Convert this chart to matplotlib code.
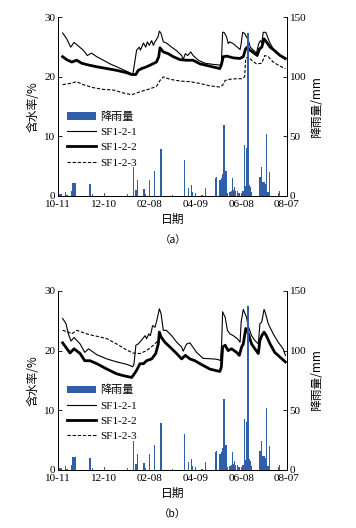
import matplotlib
matplotlib.use("Agg")
import matplotlib.pyplot as plt

# ---------------- data ----------------
tick_days = [0, 60, 120, 180, 240, 300]
tick_labels = ["10-11", "12-10", "02-08", "04-09", "06-08", "08-07"]

rain_day = [2, 4, 9.6, 12, 18, 19.6, 21, 23, 42, 45, 61, 91, 99, 102, 104, 112.6, 114,
            120, 126.6, 135, 150, 166, 171, 175, 176, 180, 188.6, 193, 206.5, 207.5,
            212.5, 214, 216, 217.5, 219, 220, 222, 225.5, 227, 228.5, 230, 231, 233, 235, 237,
            241, 242.5, 244, 245.5, 246.5, 247.5, 249, 250.5, 251.5, 253, 264.6, 266.5, 268.6,
            270, 271.5, 273, 275, 277.5, 289, 290.5]
rain_mm = [1.7, 1.4, 3.4, 1.0, 4.0, 11.2, 11.2, 10.8, 10.0, 1.7, 2.2, 1.8, 24.6, 5.0, 13.5, 5.9, 1.5,
           13.0, 21.0, 39.2, 0.6, 30.0, 7.0, 9.0, 3.6, 2.2, 0.8, 6.4, 15.0, 16.0,
           13.0, 15.0, 18.0, 59.5, 21.0, 21.0, 2.2, 3.0, 4.0, 15.0, 5.0, 7.8, 4.5, 4.0, 2.8,
           2.8, 4.0, 42.7, 8.0, 5.0, 40.0, 137.0, 9.0, 7.8, 3.6, 16.0, 24.6, 12.0,
           12.0, 10.0, 52.0, 3.6, 20.4, 2.2, 4.0]

# panel (a)
a1_day = [6, 11.4, 16.6, 21, 26.6, 33, 38.4, 44, 50.7, 59.4, 68, 77, 85.6, 94, 98, 99.6, 103,
          106.5, 108, 112, 115, 117, 119.6, 122.7, 125, 127, 129, 131, 132.8, 135, 138, 142,
          149, 155.5, 162, 164, 166.8, 170, 174, 177, 184, 192.6, 203.5, 212, 214, 215.7,
          217.5, 221, 223, 225, 229.5, 235, 238.6, 240, 242, 244.5, 247, 249, 252, 256, 260,
          263, 265.5, 267, 269, 272, 273, 277, 282, 288.6, 295, 298]
a1_val = [27.4, 26.4, 25.0, 25.8, 25.2, 24.5, 23.6, 24.0, 23.4, 22.8, 22.2, 21.7, 21.2, 20.7, 20.4, 21.7, 24.5,
          25.0, 24.5, 25.7, 25.0, 25.9, 25.3, 26.1, 25.3, 25.9, 26.3, 26.7, 27.7, 27.3, 25.9, 25.7,
          25.0, 24.4, 23.6, 22.9, 23.9, 23.6, 24.2, 23.6, 22.8, 22.3, 22.1, 22.0, 22.2, 27.5,
          27.5, 26.7, 25.6, 25.9, 25.6, 25.0, 24.6, 25.6, 27.5, 27.3, 26.7, 26.3, 25.0, 24.5, 24.0,
          25.6, 26.1, 25.7, 27.5, 27.5, 27.3, 25.9, 24.7, 23.9, 23.2, 22.9]
a2_day = [6, 11.4, 18, 24.5, 31, 40, 51, 64, 77, 90, 96.5, 102, 105, 109.6, 116, 122.7, 129, 132,
          133.6, 138, 144.5, 151, 160, 168.5, 177, 186, 199, 212, 214, 216.6, 221, 229.7, 238.4,
          242.8, 245.8, 248, 251.5, 257, 261, 264, 267, 270, 273, 278, 284, 291, 298]
a2_val = [23.4, 22.9, 22.5, 22.8, 22.3, 22.0, 21.7, 21.4, 21.1, 20.7, 20.4, 20.4, 21.1, 21.4, 21.7, 22.1, 22.5, 23.4,
          24.9, 24.2, 23.9, 23.4, 22.9, 22.8, 22.8, 22.2, 21.8, 21.4, 22.0, 23.4, 23.5, 23.2, 23.1,
          23.4, 24.7, 25.0, 24.5, 24.0, 23.6, 24.7, 25.0, 26.4, 25.9, 25.0, 24.4, 23.6, 23.1]
a3_day = [6, 15.7, 24.5, 33, 46, 59.4, 72.5, 85.6, 96.5, 107.4, 120.5, 129, 133.6, 138, 146.7,
          160, 173, 186, 199, 212, 215.7, 219, 225, 234, 240.6, 244.5, 246, 249, 253.7, 260,
          267, 271, 275.5, 282, 291, 298]
a3_val = [18.7, 18.9, 19.2, 18.7, 18.2, 17.9, 17.8, 17.3, 17.0, 17.5, 18.0, 18.4, 19.4, 20.0, 19.6,
          19.3, 19.2, 18.9, 18.5, 18.3, 18.6, 19.4, 19.6, 19.7, 19.7, 20.0, 23.1, 23.4, 22.8, 22.2,
          22.3, 23.6, 23.4, 22.5, 21.8, 21.4]

# panel (b)
b1_day = [6, 10.5, 13.5, 17, 21, 29, 35, 40, 51, 64, 77, 90, 98, 99.6, 102, 105, 107, 111, 114,
          116, 119, 121, 124, 127, 129, 132.8, 135, 138, 142, 149, 155.5, 162, 164, 168.5, 173,
          175, 181.6, 190, 203.5, 210, 213, 214.4, 215.7, 219, 222, 225.3, 229.7, 235, 238.6,
          240, 242.8, 247, 249, 253.7, 258, 262.5, 264.6, 267, 270, 272, 275.5, 282, 288.6, 295, 298]
b1_val = [25.4, 24.5, 22.8, 21.6, 22.2, 21.1, 19.7, 20.3, 19.3, 18.6, 18.1, 17.7, 17.3, 17.8, 20.9, 21.1, 21.4, 22.0, 22.5,
          22.0, 22.8, 22.5, 24.2, 23.9, 24.8, 27.0, 26.2, 23.4, 23.4, 22.5, 21.4, 20.6, 19.9, 21.1, 21.3,
          20.9, 19.7, 18.7, 18.6, 18.5, 18.3, 21.1, 26.5, 25.6, 23.4, 22.8, 22.5, 22.0, 21.4,
          24.8, 26.9, 25.6, 24.2, 22.5, 21.7, 21.1, 24.5, 24.8, 26.9, 26.2, 24.5, 22.8, 21.4, 20.3, 19.2]
b2_day = [6, 15.7, 21, 29, 35, 42, 51, 64, 77, 85.6, 96.5, 100, 103, 107.4, 112, 116, 122.7, 128,
          131.4, 132.8, 135, 140, 146.7, 155.5, 162, 166.8, 173, 179.5, 186, 199, 212, 214,
          215.7, 219, 223, 227.5, 234, 237.6, 240.6, 242.8, 246, 249, 253.7, 258, 262.5, 264.6,
          267, 270, 273, 278, 284, 291, 298]
b2_val = [21.3, 19.6, 20.3, 19.5, 18.3, 18.3, 17.8, 16.9, 16.1, 15.8, 15.5, 16.1, 16.7, 17.8, 17.8, 18.3, 18.6, 19.5,
          21.1, 23.1, 22.3, 21.4, 20.6, 19.5, 18.6, 19.2, 18.6, 18.3, 17.8, 16.9, 16.5, 17.2,
          20.6, 20.9, 20.0, 20.3, 19.7, 19.2, 20.6, 21.1, 23.7, 23.0, 21.1, 20.3, 19.5, 21.7,
          22.5, 23.1, 22.5, 21.1, 19.7, 18.9, 18.1]
b3_day = [6, 13.5, 18, 24.5, 31, 40, 51, 64, 77, 90, 98, 107.4, 116, 125, 131.4, 133]
b3_val = [23.4, 23.1, 22.8, 23.4, 23.1, 22.7, 22.4, 22.0, 21.1, 20.1, 19.6, 19.5, 20.0, 20.9, 21.7, 22.8]

# ---------------- style ----------------
serif = ["Liberation Serif", "Noto Sans CJK SC"]
cjk = ["Noto Sans CJK SC", "Liberation Serif"]
plt.rcParams["font.family"] = serif
plt.rcParams["font.size"] = 8
bar_color = "#2f5fa8"

fig = plt.figure(figsize=(3.56, 5.28), dpi=100)

panels = [
    ((0.163, 0.629, 0.643, 0.338), (a1_day, a1_val), (a2_day, a2_val), (a3_day, a3_val), "（a）", 0.585, 0.545),
    ((0.163, 0.110, 0.643, 0.339), (b1_day, b1_val), (b2_day, b2_val), (b3_day, b3_val), "（b）", 0.066, 0.027),
]

for rect, s1, s2, s3, tag, ydate, ytag in panels:
    ax = fig.add_axes(rect)
    ax2 = ax.twinx()
    l1, = ax.plot(s1[0], s1[1], color="black", lw=0.8, label="SF1-2-1")
    l2, = ax.plot(s2[0], s2[1], color="black", lw=2.0, label="SF1-2-2")
    l3, = ax.plot(s3[0], s3[1], color="black", lw=0.8, ls=(0, (3, 1.6)), label="SF1-2-3")
    bars = ax2.bar(rain_day, rain_mm, width=1.8, color=bar_color, label="降雨量", zorder=3)

    ax.set_xlim(0, 300)
    ax.set_ylim(0, 30)
    ax2.set_ylim(0, 150)
    ax.set_xticks(tick_days)
    ax.set_xticklabels(tick_labels)
    ax.set_yticks([0, 10, 20, 30])
    ax2.set_yticks([0, 50, 100, 150])
    for a in (ax, ax2):
        a.spines["top"].set_visible(False)
        a.tick_params(direction="in", length=3, width=0.6, labelsize=8, pad=2)
        for sp in a.spines.values():
            sp.set_linewidth(0.7)
    ax.tick_params(axis="x", length=0, pad=3)

    ax.set_ylabel("含水率/%", family=cjk, fontsize=8.5, labelpad=3)
    ax2.set_ylabel("降雨量/mm", family=cjk, fontsize=8.5, labelpad=3)

    leg = ax.legend([bars, l1, l2, l3], ["降雨量", "SF1-2-1", "SF1-2-2", "SF1-2-3"],
                    loc="upper left", bbox_to_anchor=(0.02, 0.50), frameon=False,
                    fontsize=8, handlelength=2.6, handletextpad=0.4, labelspacing=0.5,
                    borderaxespad=0)
    for t in leg.get_texts():
        t.set_family(serif)
    leg.get_texts()[0].set_family(cjk)
    leg.set_zorder(10)

    fig.text(0.485, ydate, "日期", family=cjk, fontsize=8.5, ha="center", va="center")
    fig.text(0.485, ytag, tag, family=cjk, fontsize=7.5, ha="center", va="center")

fig.savefig("out.png", dpi=100)
